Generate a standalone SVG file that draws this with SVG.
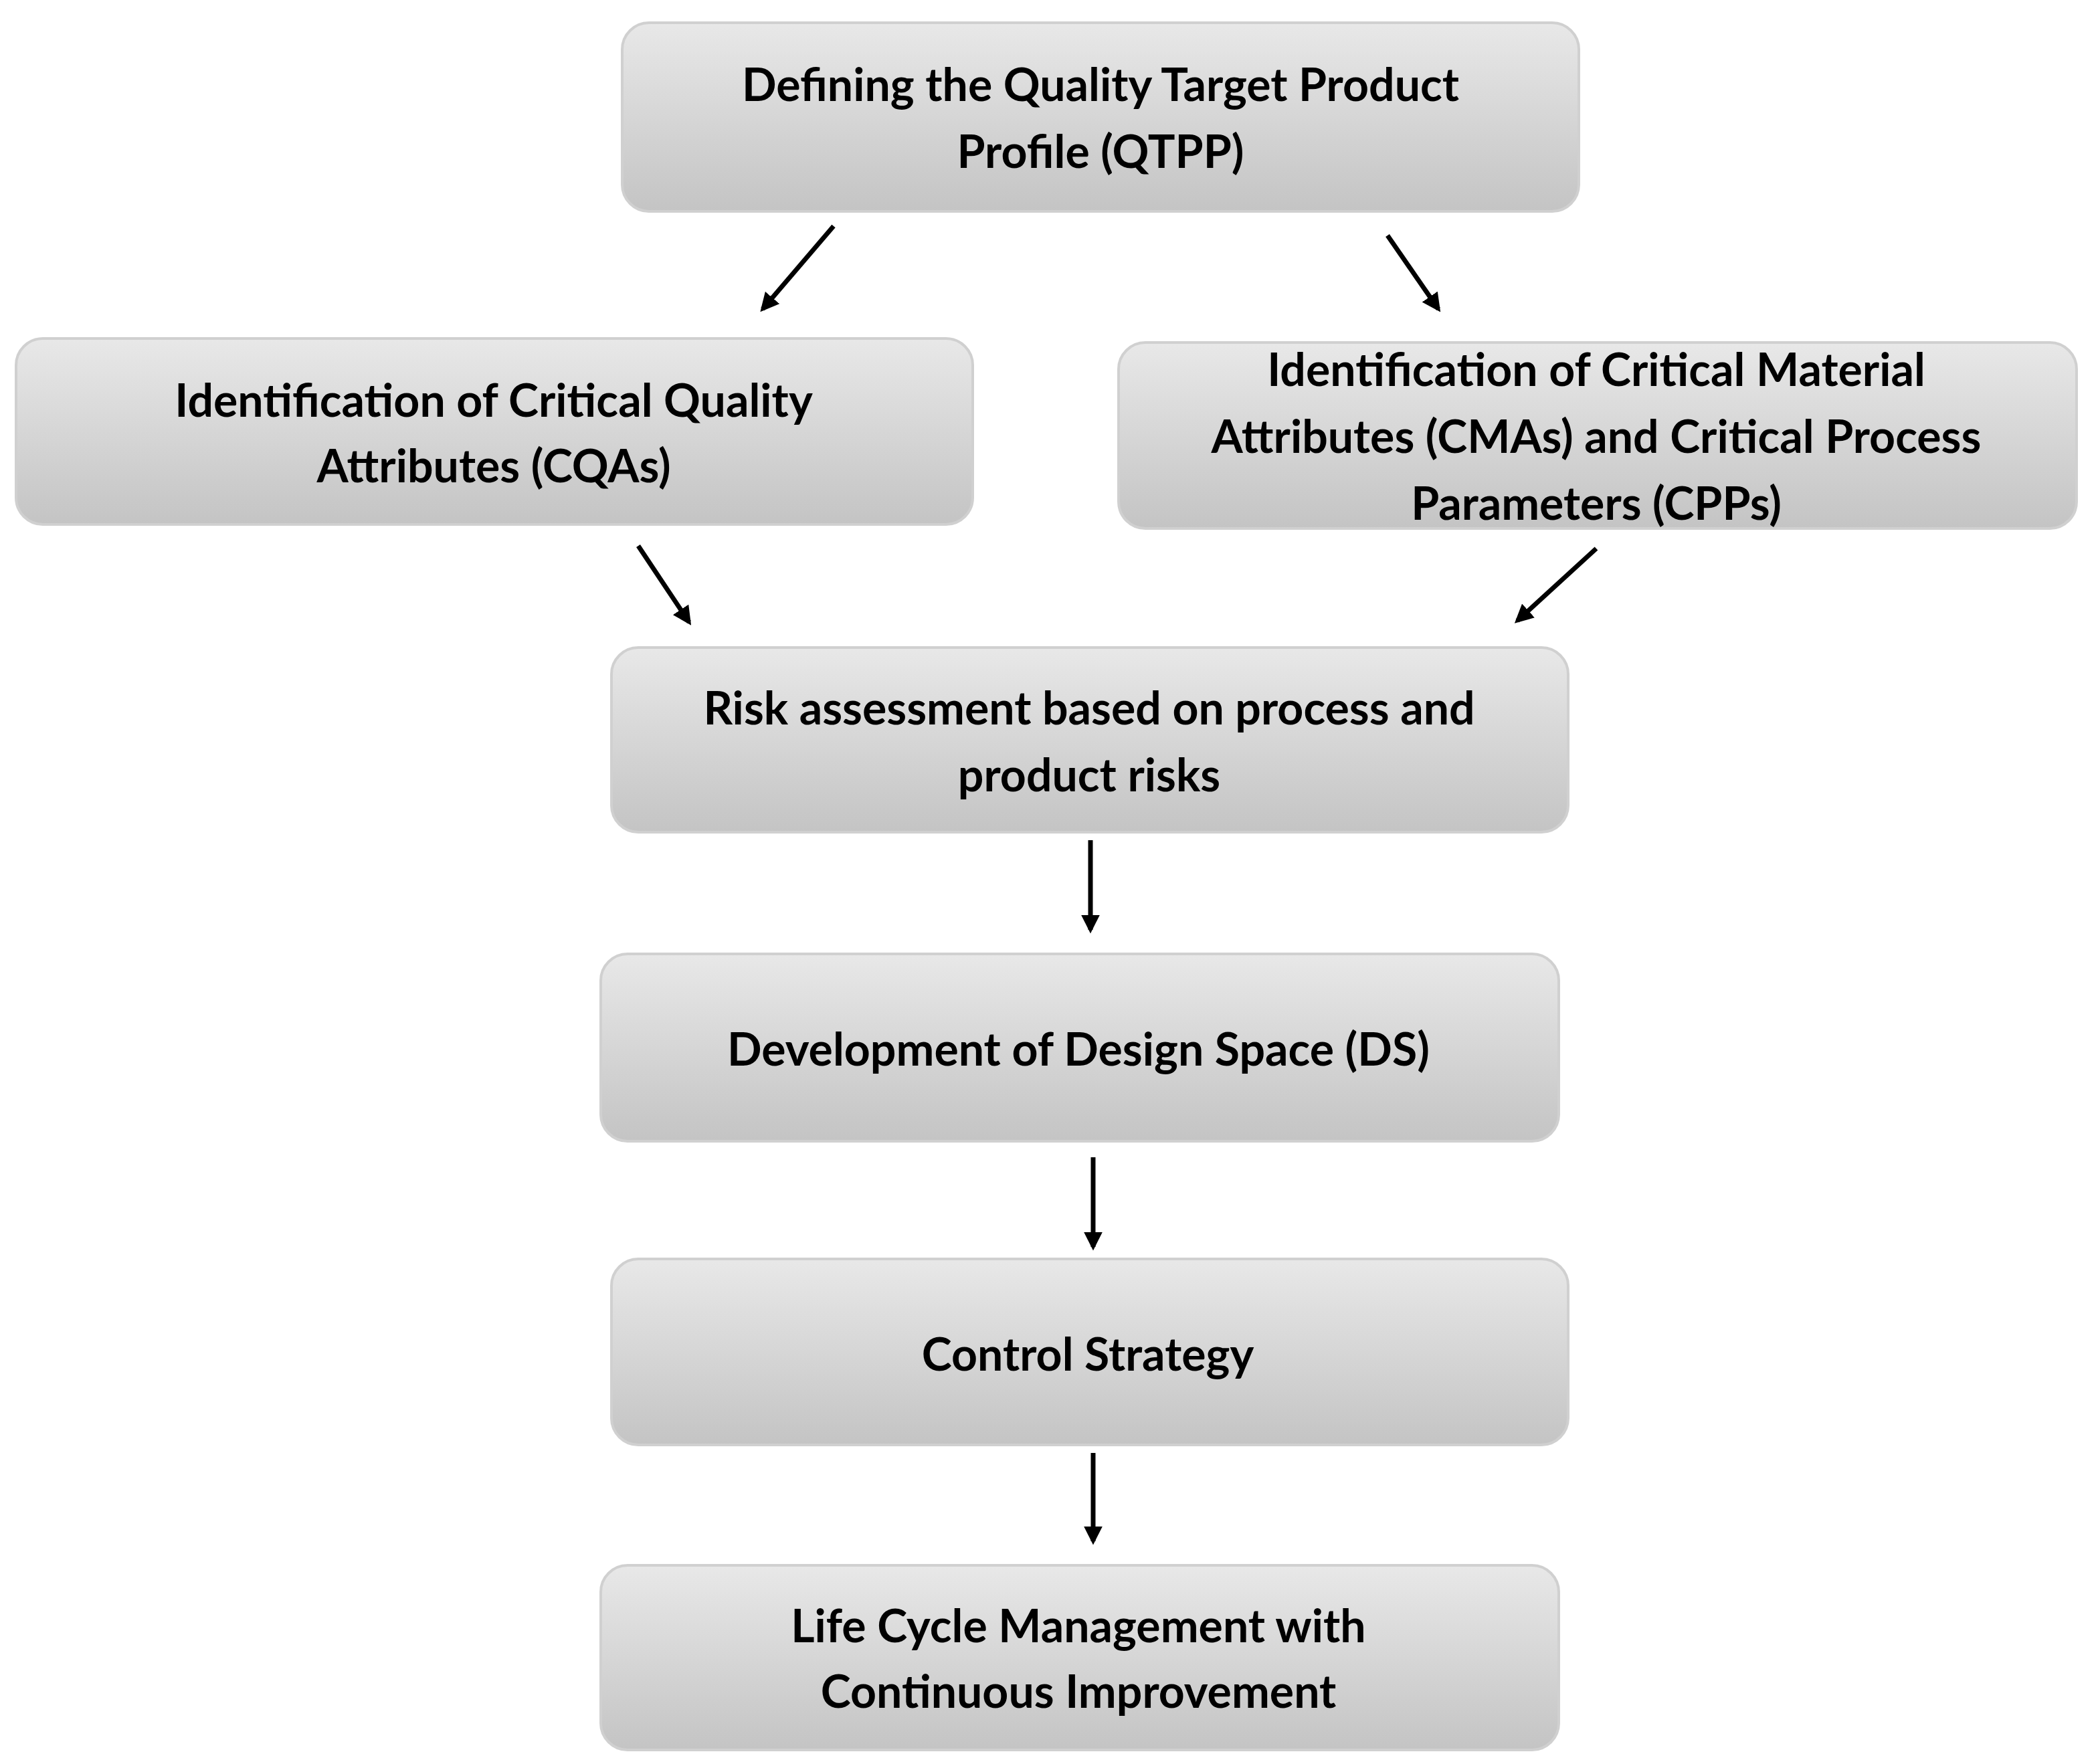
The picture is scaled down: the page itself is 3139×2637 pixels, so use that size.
<svg xmlns="http://www.w3.org/2000/svg" width="3139" height="2637" viewBox="0 0 3139 2637">
<defs>
<linearGradient id="g" x1="0" y1="0" x2="0" y2="1">
<stop offset="0" stop-color="#e8e8e8"/><stop offset="1" stop-color="#c4c4c4"/>
</linearGradient>
<marker id="ah" viewBox="0 0 10 10" refX="8" refY="5" markerWidth="4" markerHeight="4" orient="auto" markerUnits="strokeWidth">
<path d="M0,0 L10,5 L0,10 z" fill="#000"/>
</marker>
<style>
.box{fill:url(#g);stroke:#d0d0d0;stroke-width:4}
.t{font-family:Lato,"Open Sans",sans-serif;font-weight:bold;font-size:68px;fill:#000;text-anchor:middle;dominant-baseline:central}
.c{stroke:#000;stroke-width:7;fill:none;marker-end:url(#ah)}
</style>
</defs>
<rect width="3139" height="2637" fill="#fff"/>
<g id="n1"><rect class="box" x="930" y="34" width="1430" height="282" rx="40"/><text class="t" x="1645" y="124">Defining the Quality Target Product</text><text class="t" x="1645" y="224">Profile (QTPP)</text></g>
<g id="n2"><rect class="box" x="24" y="506" width="1430" height="278" rx="40"/><text class="t" x="738" y="596">Identification of Critical Quality</text><text class="t" x="738" y="694">Attributes (CQAs)</text></g>
<g id="n3"><rect class="box" x="1672" y="512" width="1432" height="278" rx="40"/><text class="t" x="2386" y="550">Identification of Critical Material</text><text class="t" x="2386" y="650">Attributes (CMAs) and Critical Process</text><text class="t" x="2386" y="750">Parameters (CPPs)</text></g>
<g id="n4"><rect class="box" x="914" y="968" width="1430" height="276" rx="40"/><text class="t" x="1628" y="1056">Risk assessment based on process and</text><text class="t" x="1628" y="1156">product risks</text></g>
<g id="n5"><rect class="box" x="898" y="1426" width="1432" height="280" rx="40"/><text class="t" x="1612" y="1566">Development of Design Space (DS)</text></g>
<g id="n6"><rect class="box" x="914" y="1882" width="1430" height="278" rx="40"/><text class="t" x="1626" y="2022">Control Strategy</text></g>
<g id="n7"><rect class="box" x="898" y="2340" width="1432" height="276" rx="40"/><text class="t" x="1612" y="2428">Life Cycle Management with</text><text class="t" x="1612" y="2526">Continuous Improvement</text></g>
<g id="connectors">
<line class="c" x1="1246" y1="338" x2="1140" y2="462"/>
<line class="c" x1="2074" y1="352" x2="2150" y2="462"/>
<line class="c" x1="954" y1="816" x2="1030" y2="930"/>
<line class="c" x1="2386" y1="820" x2="2268" y2="928"/>
<line class="c" x1="1630" y1="1256" x2="1630" y2="1390"/>
<line class="c" x1="1634" y1="1730" x2="1634" y2="1864"/>
<line class="c" x1="1634" y1="2172" x2="1634" y2="2304"/>
</g>
</svg>
